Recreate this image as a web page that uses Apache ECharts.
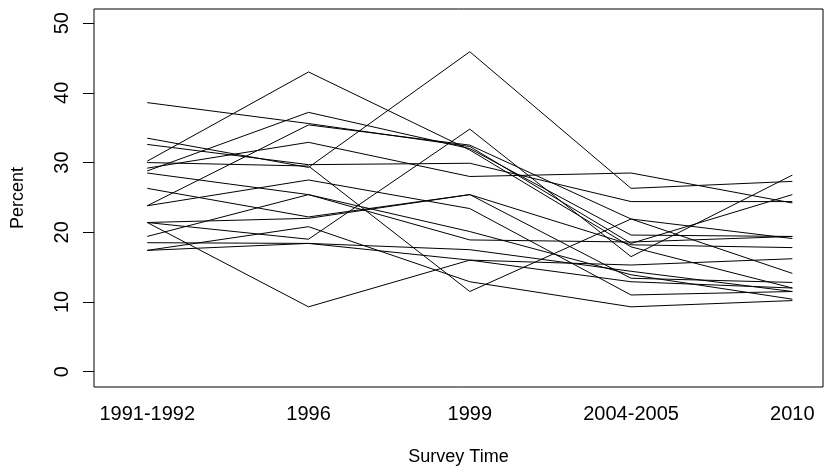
<!DOCTYPE html>
<html>
<head>
<meta charset="utf-8">
<script src="https://cdn.jsdelivr.net/npm/echarts@6/dist/echarts.min.js"></script>
<style>
  html, body { margin: 0; padding: 0; background: #fff; }
  #chart { width: 838px; height: 476px; }
</style>
</head>
<body>
<div id="chart"></div>
<script>
const surveyTimes = ["1991-1992", "1996", "1999", "2004-2005", "2010"];
const yTicks = [0, 10, 20, 30, 40, 50];

// one row per line, values in percent at each survey time
const s01 = [38.6, 35.6, 32.3, 18.4, 25.4];
const s02 = [30.2, 43.0, 31.8, 17.9, 12.0];
const s03 = [28.8, 37.2, 32.0, 19.6, 19.4];
const s04 = [33.5, 29.3, 45.9, 26.3, 27.3];
const s05 = [32.6, 29.7, 29.9, 24.4, 24.4];
const s06 = [29.2, 32.9, 28.0, 28.5, 24.2];
const s07 = [23.8, 35.4, 32.5, 21.9, 19.1];
const s08 = [23.8, 27.5, 23.4, 11.0, 11.5];
const s09 = [28.5, 25.4, 20.1, 13.9, 10.4];
const s10 = [30.0, 29.5, 11.5, 21.9, 14.1];
const s11 = [26.3, 22.2, 25.4, 18.2, 17.8];
const s12 = [21.4, 9.3, 16.0, 15.3, 16.2];
const s13 = [21.4, 22.0, 25.4, 13.4, 12.8];
const s14 = [21.4, 19.0, 34.8, 16.5, 28.2];
const s15 = [19.4, 25.4, 18.9, 18.6, 19.4];
const s16 = [18.5, 18.4, 17.5, 14.4, 11.5];
const s17 = [17.4, 20.8, 12.9, 9.3, 10.2];
const s18 = [17.4, 18.4, 16.0, 12.9, 12.0];

const allLines = [s01, s02, s03, s04, s05, s06, s07, s08, s09,
                  s10, s11, s12, s13, s14, s15, s16, s17, s18];

const chart = echarts.init(document.getElementById("chart"));

const font = "Liberation Sans, Arial, sans-serif";

chart.setOption({
  animation: false,
  grid: {
    left: 94, right: 15, top: 9, bottom: 89,
    show: true, borderColor: "#000", borderWidth: 1
  },
  xAxis: {
    type: "value",
    min: 0.67, max: 5.19,
    name: "Survey Time",
    nameLocation: "middle",
    nameGap: 61,
    nameTextStyle: { color: "#000", fontSize: 18, fontFamily: font },
    axisLine: { show: false },
    axisTick: { show: false },
    splitLine: { show: false },
    axisLabel: {
      customValues: [1, 2, 3, 4, 5],
      formatter: (v) => surveyTimes[Math.round(v) - 1],
      color: "#000", fontSize: 20, fontFamily: font, margin: 17
    }
  },
  yAxis: {
    type: "value",
    min: -2.2, max: 52.03,
    name: "Percent",
    nameLocation: "middle",
    nameGap: 67,
    nameTextStyle: { color: "#000", fontSize: 18, fontFamily: font },
    axisLine: { show: false },
    splitLine: { show: false },
    axisTick: {
      show: true, customValues: yTicks, length: 11,
      lineStyle: { color: "#000", width: 1 }
    },
    axisLabel: {
      customValues: yTicks,
      rotate: 90,
      color: "#000", fontSize: 20, fontFamily: font, margin: 22
    }
  },
  series: allLines.map((vals) => ({
    type: "line",
    data: vals.map((v, i) => [i + 1, v]),
    symbol: "none",
    silent: true,
    lineStyle: { color: "#000", width: 1 }
  }))
});
</script>
</body>
</html>
